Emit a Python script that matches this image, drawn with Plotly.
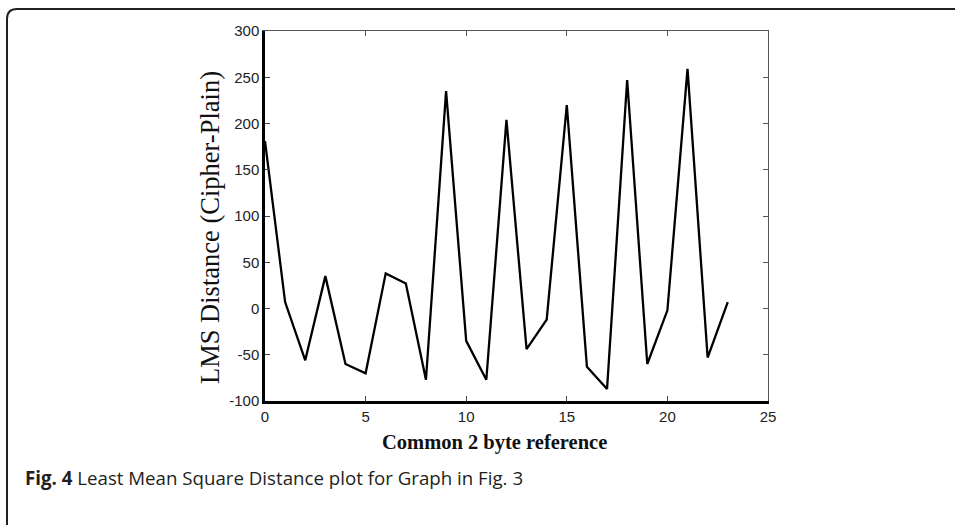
import plotly.graph_objects as go

x_ref = list(range(24))
lms_distance = [181, 7, -56, 35, -60, -70, 38, 27, -77, 235, -35, -77,
                204, -44, -12, 220, -63, -87, 247, -60, -2, 259, -53, 7]
x_ticks = [0, 5, 10, 15, 20, 25]
y_ticks = [-100, -50, 0, 50, 100, 150, 200, 250, 300]
y_tick_labels = ["-100", "-50", "0", "50", "100", "150", "200", "250", "300"]

W, H = 955, 525
L, R, T, B = 265, 768, 31, 401

def px(v):
    return (v - L) / (R - L)

def py(v):
    return (B - v) / (B - T)

fig = go.Figure()
fig.add_trace(go.Scatter(x=x_ref, y=lms_distance, mode="lines",
                         line=dict(color="black", width=2.3), showlegend=False))
fig.add_trace(go.Scatter(x=[0], y=[0], xaxis="x2", yaxis="y2", mode="markers",
                         marker=dict(opacity=0), showlegend=False, hoverinfo="skip"))

tickfont = dict(family="Liberation Sans, Arial", size=15, color="#222222")
fig.update_layout(
    width=W, height=H,
    margin=dict(l=L, r=W - R, t=T, b=H - B),
    plot_bgcolor="white", paper_bgcolor="white",
    xaxis=dict(range=[0, 25], tickvals=x_ticks, ticks="inside", ticklen=5,
               tickcolor="#444", showgrid=False, zeroline=False,
               showline=True, linecolor="black", linewidth=2.5,
               tickfont=tickfont),
    yaxis=dict(range=[-100, 300], tickvals=y_ticks, ticktext=y_tick_labels,
               ticks="inside", ticklen=5,
               tickcolor="#444", showgrid=False, zeroline=False,
               showline=True, linecolor="black", linewidth=2.5,
               tickfont=tickfont),
    xaxis2=dict(range=[0, 25], tickvals=x_ticks, ticks="inside", ticklen=5,
                tickcolor="#555", overlaying="x", side="top", showticklabels=False,
                showgrid=False, zeroline=False, showline=True, linecolor="#555",
                linewidth=1.2, anchor="y2"),
    yaxis2=dict(range=[-100, 300], tickvals=y_ticks, ticks="inside", ticklen=5,
                tickcolor="#555", overlaying="y", side="right", showticklabels=False,
                showgrid=False, zeroline=False, showline=True, linecolor="#555",
                linewidth=1.2, anchor="x2"),
)

# axis titles
fig.add_annotation(
    x=px(494), y=py(442), xref="paper", yref="paper", xanchor="center", yanchor="middle",
    showarrow=False, text="<b>Common 2 byte reference</b>",
    font=dict(family="Liberation Serif, Times New Roman", size=20.5, color="#111"),
)
fig.add_annotation(
    x=px(210), y=py(228), xref="paper", yref="paper", xanchor="center", yanchor="middle",
    showarrow=False, text="LMS Distance (Cipher-Plain)", textangle=-90,
    font=dict(family="Liberation Serif, Times New Roman", size=26.5, color="#111"),
)

# outer frame with rounded top-left corner
x0, y0, r = 7, 9, 10
path = (f"M {px(x0)} {py(H + 10)} L {px(x0)} {py(y0 + r)} "
        f"Q {px(x0)} {py(y0)} {px(x0 + r)} {py(y0)} L {px(W + 10)} {py(y0)}")
fig.add_shape(type="path", path=path, xref="paper", yref="paper",
              line=dict(color="#231f20", width=2))

fig.add_annotation(
    x=px(23), y=py(477), xref="paper", yref="paper", xanchor="left", yanchor="middle",
    showarrow=False,
    text="<b>Fig. 4</b> Least Mean Square Distance plot for Graph in Fig. 3",
    font=dict(family="Open Sans", size=18.7, color="#231f20"),
)

fig.write_html("out.html", config={"displayModeBar": False},
               post_script="document.body.style.margin='0';document.body.style.overflow='hidden';")
